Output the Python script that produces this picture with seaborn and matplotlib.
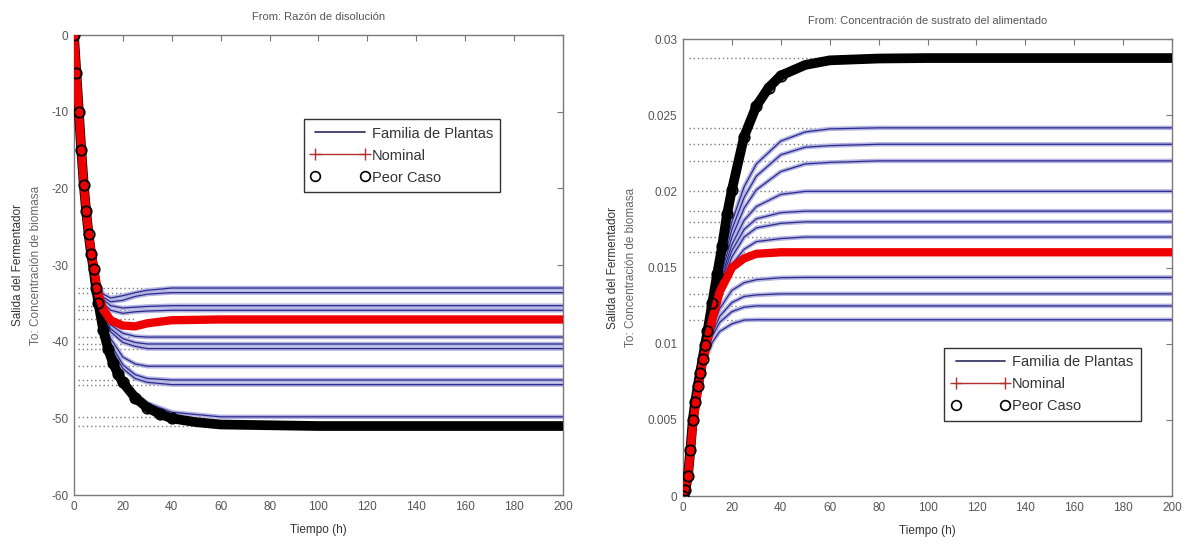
import numpy as np
import pandas as pd
import matplotlib
matplotlib.use("Agg")
import matplotlib.pyplot as plt
from matplotlib.lines import Line2D
import seaborn as sns

# ---------------- data ----------------
# Left panel: From "Razón de disolución"
t_fam_L = [0, 2, 4, 6, 8, 10, 12, 15, 20, 25, 30, 40, 60, 200]
fam_L = [
    [0, -10, -19.5, -26, -30, -32.5, -33.8, -34.3, -34.0, -33.6, -33.3, -33.0, -33.0, -33.0],
    [0, -10, -19.5, -26, -30, -32.8, -34.2, -34.8, -34.6, -34.1, -33.8, -33.6, -33.6, -33.6],
    [0, -10, -19.5, -26, -30, -33.2, -34.5, -35.3, -35.6, -35.5, -35.4, -35.3, -35.3, -35.3],
    [0, -10, -19.5, -26, -30, -33.5, -35.0, -35.9, -36.3, -36.1, -36.0, -35.9, -35.9, -35.9],
    [0, -10, -19.5, -26, -30, -33.9, -36.0, -37.8, -38.9, -39.3, -39.4, -39.4, -39.4, -39.4],
    [0, -10, -19.5, -26, -30, -34.0, -36.3, -38.3, -39.6, -40.1, -40.3, -40.3, -40.3, -40.3],
    [0, -10, -19.5, -26, -30, -34.1, -36.6, -38.7, -40.1, -40.6, -40.9, -40.9, -40.9, -40.9],
    [0, -10, -19.5, -26, -30, -34.2, -37.0, -39.6, -42.0, -42.9, -43.2, -43.2, -43.2, -43.2],
    [0, -10, -19.5, -26, -30, -34.3, -37.5, -40.3, -43.0, -44.3, -44.8, -45.0, -45.0, -45.0],
    [0, -10, -19.5, -26, -30, -34.5, -37.8, -40.8, -43.5, -44.8, -45.3, -45.6, -45.6, -45.6],
    [0, -10, -19.5, -26, -30, -34.8, -38.3, -41.5, -44.8, -46.8, -48.0, -49.2, -49.8, -49.8],
]
settle_L = [35, 35, 45, 45, 40, 40, 40, 36, 46, 46, 65]
nom_L = [0, -10, -19.5, -26, -30, -33.8, -35.8, -37.2, -37.9, -38.0, -37.6, -37.2, -37.1, -37.1]
nom_settle_L = 25
t_wc_L = [0, 1, 2, 3, 4, 5, 6, 7, 8, 9, 10, 12, 14, 16, 18, 20, 25, 30, 35, 40, 50, 60, 80, 100, 150, 200]
wc_L = [0, -5, -10, -15, -19.5, -23, -26, -28.5, -30.5, -33, -35, -38.5, -41, -42.8, -44.2, -45.3,
        -47.3, -48.6, -49.4, -50.0, -50.5, -50.8, -50.9, -51.0, -51.0, -51.0]
wc_settle_L = 60

# Right panel: From "Concentración de sustrato del alimentado"
t_fam_R = [0, 2, 4, 6, 8, 10, 12, 15, 20, 25, 30, 40, 50, 60, 80, 200]
fam_R = [
    [0, 0.0012, 0.0046, 0.0068, 0.0087, 0.0108, 0.0125, 0.0148, 0.0180, 0.0203, 0.0218, 0.0233, 0.0239, 0.0241, 0.02417, 0.02417],
    [0, 0.0012, 0.0046, 0.0068, 0.0087, 0.0107, 0.0123, 0.0145, 0.0175, 0.0196, 0.0210, 0.0224, 0.0229, 0.0230, 0.02309, 0.02309],
    [0, 0.0012, 0.0046, 0.0068, 0.0087, 0.0106, 0.0121, 0.0142, 0.0170, 0.0189, 0.0201, 0.0213, 0.0218, 0.0219, 0.0220, 0.0220],
    [0, 0.0012, 0.0046, 0.0068, 0.0087, 0.0106, 0.0120, 0.0140, 0.0165, 0.0181, 0.0190, 0.0198, 0.0200, 0.0200, 0.0200, 0.0200],
    [0, 0.0012, 0.0046, 0.0068, 0.0087, 0.0105, 0.0119, 0.0138, 0.0161, 0.0175, 0.0182, 0.0186, 0.0187, 0.0187, 0.0187, 0.0187],
    [0, 0.0012, 0.0046, 0.0068, 0.0087, 0.0105, 0.0118, 0.0136, 0.0157, 0.0170, 0.0176, 0.0179, 0.0180, 0.0180, 0.0180, 0.0180],
    [0, 0.0012, 0.0046, 0.0068, 0.0087, 0.0104, 0.0117, 0.0134, 0.0152, 0.0162, 0.0167, 0.0169, 0.0170, 0.0170, 0.0170, 0.0170],
    [0, 0.0012, 0.0046, 0.0068, 0.0087, 0.0100, 0.0110, 0.0123, 0.0135, 0.0140, 0.0142, 0.01433, 0.01435, 0.01435, 0.01435, 0.01435],
    [0, 0.0012, 0.0046, 0.0068, 0.0087, 0.0098, 0.0107, 0.0118, 0.0127, 0.0131, 0.0132, 0.01327, 0.01327, 0.01327, 0.01327, 0.01327],
    [0, 0.0012, 0.0046, 0.0068, 0.0087, 0.0096, 0.0105, 0.0114, 0.0121, 0.0124, 0.01248, 0.01248, 0.01248, 0.01248, 0.01248, 0.01248],
    [0, 0.0012, 0.0046, 0.0068, 0.0087, 0.0093, 0.0101, 0.0108, 0.0113, 0.01155, 0.01157, 0.01157, 0.01157, 0.01157, 0.01157, 0.01157],
]
settle_R = [60, 65, 76, 53, 43, 40, 55, 44, 44, 30, 25]
nom_R = [0, 0.0012, 0.0046, 0.0068, 0.0087, 0.0102, 0.0116, 0.0134, 0.0150, 0.0156, 0.0159, 0.0160, 0.0160, 0.0160, 0.0160, 0.0160]
nom_settle_R = 36
t_wc_R = [0, 1, 2, 3, 4, 5, 6, 7, 8, 9, 10, 12, 14, 16, 18, 20, 25, 30, 35, 40, 50, 60, 80, 100, 150, 200]
wc_R = [0, 0.0004, 0.0013, 0.0030, 0.0050, 0.0062, 0.0072, 0.0081, 0.0090, 0.0099, 0.0108, 0.0127, 0.0146,
        0.0164, 0.0185, 0.0201, 0.0236, 0.0256, 0.0268, 0.0276, 0.0283, 0.0286, 0.02872, 0.02875, 0.02875, 0.02875]
wc_settle_R = 60

titles = ["From: Razón de disolución", "From: Concentración de sustrato del alimentado"]
ylabel1 = "Salida del Fermentador"
ylabel2 = "To: Concentración de biomasa"
xlabel = "Tiempo (h)"
legend_labels = ["Familia de Plantas", "Nominal", "Peor Caso"]
xticks = [0, 20, 40, 60, 80, 100, 120, 140, 160, 180, 200]
yticks_L = [-60, -50, -40, -30, -20, -10, 0]
yticks_R = [0, 0.005, 0.01, 0.015, 0.02, 0.025, 0.03]
yticklabels_R = ["0", "0.005", "0.01", "0.015", "0.02", "0.025", "0.03"]

# ---------------- styling ----------------
sns.set_theme(style="white")
plt.rcParams['font.family'] = ['Liberation Sans', 'DejaVu Sans']

FAM_HALO = "#b4b4e0"
FAM_LINE = "#2a2a90"
GRAY_TXT = "#555555"

fig = plt.figure(figsize=(11.87, 5.45), dpi=100)
axL = fig.add_axes([0.0623, 0.0917, 0.412, 0.844])
axR = fig.add_axes([0.5754, 0.0899, 0.412, 0.8385])


def draw_panel(ax, t_fam, fams, settles, nom, nom_settle, t_wc, wc, wc_settle, dot_start):
    rows = []
    for i, ys in enumerate(fams):
        for t, y in zip(t_fam, ys):
            rows.append({"t": t, "y": y, "curve": i})
    df = pd.DataFrame(rows)

    # dotted steady-state guides
    finals = [ys[-1] for ys in fams] + [nom[-1], wc[-1]]
    ends = list(settles) + [nom_settle, wc_settle]
    ax.hlines(finals, dot_start, ends, colors="#7a7a7a", linestyles=(0, (1, 2)), lw=1.0, zorder=1)

    sns.lineplot(data=df, x="t", y="y", units="curve", estimator=None, sort=False,
                 color=FAM_HALO, lw=3.2, ax=ax, legend=False, zorder=2)
    sns.lineplot(data=df, x="t", y="y", units="curve", estimator=None, sort=False,
                 color=FAM_LINE, lw=0.9, ax=ax, legend=False, zorder=2.5)

    dwc = pd.DataFrame({"t": t_wc, "y": wc})
    dnom = pd.DataFrame({"t": t_fam, "y": nom})
    sns.lineplot(data=dwc, x="t", y="y", estimator=None, sort=False, color="black",
                 lw=7, ax=ax, legend=False, zorder=3)
    sns.lineplot(data=dnom, x="t", y="y", estimator=None, sort=False, color="#ee0000",
                 lw=6.0, ax=ax, legend=False, zorder=4)
    sns.lineplot(data=dwc, x="t", y="y", estimator=None, sort=False, color="black",
                 lw=0, marker="o", markersize=7.5, markerfacecolor="none", markevery=slice(0, 20),
                 markeredgecolor="black", markeredgewidth=1.3, ax=ax, legend=False, zorder=5)


draw_panel(axL, t_fam_L, fam_L, settle_L, nom_L, nom_settle_L, t_wc_L, wc_L, wc_settle_L, 1.5)
draw_panel(axR, t_fam_R, fam_R, settle_R, nom_R, nom_settle_R, t_wc_R, wc_R, wc_settle_R, 2.3)

axL.set_xlim(0, 200)
axL.set_ylim(-60, 0)
axL.set_yticks(yticks_L)
axL.set_yticklabels([str(v) for v in yticks_L])
axR.set_xlim(0, 200)
axR.set_ylim(0, 0.03)
axR.set_yticks(yticks_R)
axR.set_yticklabels(yticklabels_R)

for ax, title in zip([axL, axR], titles):
    ax.set_xticks(xticks)
    ax.set_xticklabels([str(v) for v in xticks])
    ax.tick_params(direction="in", length=4, width=0.8, color="#777777",
                   top=True, right=True, labelsize=8.5, labelcolor=GRAY_TXT, pad=4)
    for s in ax.spines.values():
        s.set_color("#7a7a7a")
        s.set_linewidth(1.0)
        s.set_visible(True)
    ax.set_title(title, fontsize=8, color=GRAY_TXT, pad=11)
    ax.set_xlabel(xlabel, fontsize=8.5, color="#333333", labelpad=8)
    ax.set_ylabel("")

axL.text(-0.115, 0.5, ylabel1, transform=axL.transAxes, rotation=90, ha="center", va="center",
         fontsize=8.5, color="#333333")
axL.text(-0.078, 0.5, ylabel2, transform=axL.transAxes, rotation=90, ha="center", va="center",
         fontsize=8.5, color="#666666")
axR.text(-0.143, 0.5, ylabel1, transform=axR.transAxes, rotation=90, ha="center", va="center",
         fontsize=8.5, color="#333333")
axR.text(-0.106, 0.5, ylabel2, transform=axR.transAxes, rotation=90, ha="center", va="center",
         fontsize=8.5, color="#666666")

handles = [
    Line2D([], [], color="#3a3a6a", lw=1.3),
    Line2D([], [], color="#b03030", lw=1.0, marker="+", markersize=9, markeredgecolor="#b03030"),
    Line2D([], [], color="none", lw=0, marker="o", markersize=7, markerfacecolor="none",
           markeredgecolor="black", markeredgewidth=1.2),
]
for ax, anchor in [(axL, (0.47, 0.817)), (axR, (0.534, 0.324))]:
    leg = ax.legend(handles, legend_labels, loc="upper left", bbox_to_anchor=anchor,
                    borderaxespad=0, numpoints=2, handlelength=4.0, handletextpad=0.15,
                    fontsize=10.5, frameon=True, fancybox=False, framealpha=1,
                    borderpad=0.5, labelspacing=0.55)
    leg.get_frame().set_edgecolor("#333333")
    leg.get_frame().set_linewidth(1.0)
    for txt in leg.get_texts():
        txt.set_color("#333333")

fig.savefig("out.png", dpi=100)
